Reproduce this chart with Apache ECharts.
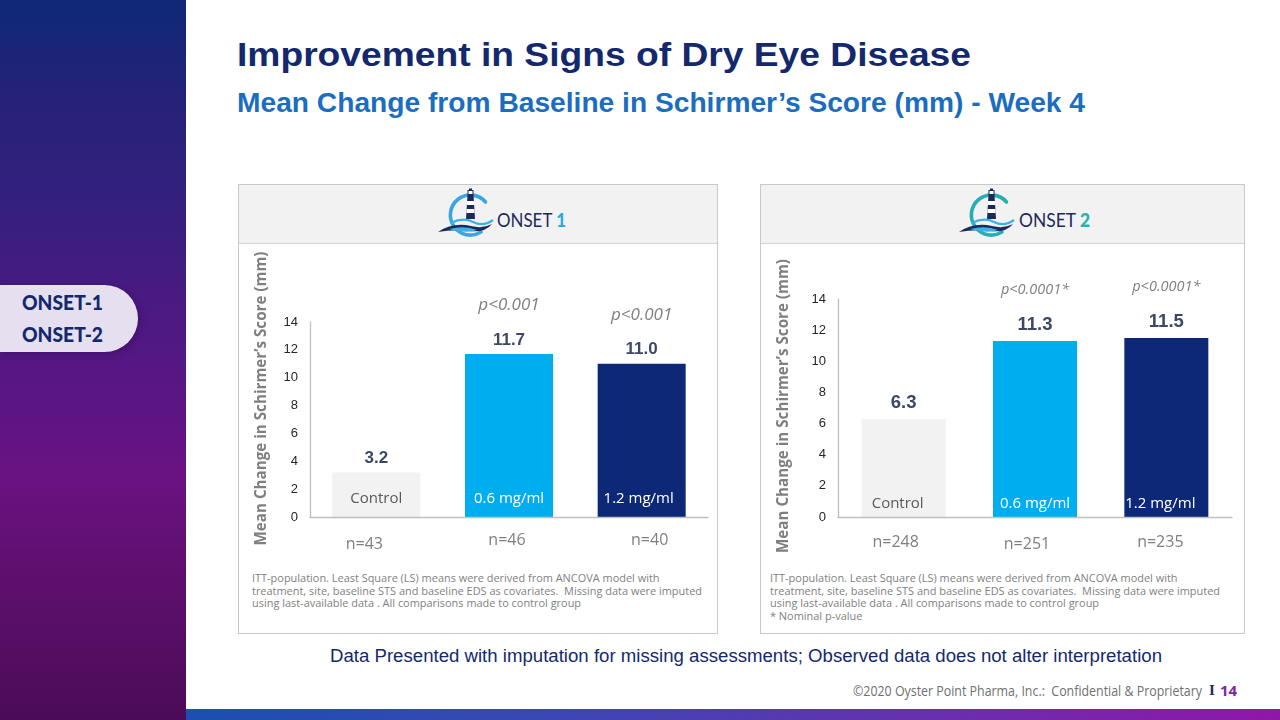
<!DOCTYPE html>
<html>
<head>
<meta charset="utf-8">
<script src="https://cdn.jsdelivr.net/npm/echarts@6/dist/echarts.min.js"></script>
<style>
  html, body { margin:0; padding:0; width:1280px; height:720px; overflow:hidden; background:#ffffff; }
  #page { position:relative; width:1280px; height:720px; }
  .abs { position:absolute; }
  .fit { position:absolute; white-space:nowrap; display:inline-block; transform-origin:0 50%; }
  #sidebar { left:0; top:0; width:186px; height:720px;
    background:linear-gradient(180deg,#0f2878 0%,#262278 14%,#34207e 28%,#4a1a82 42%,#5c1584 56%,#6a1282 66%,#601070 78%,#4c0b58 100%); }
  #bottombar { left:186px; top:709px; width:1094px; height:11px;
    background:linear-gradient(90deg,#1b4fb0 0%,#3d47b4 35%,#6a2eae 70%,#8f17a8 100%); }
  #pill { left:0; top:285px; width:138px; height:67px; background:#e5dfef; border-radius:0 34px 34px 0; box-shadow:2px 2px 6px rgba(40,0,60,0.35); }
  .pilltxt { font-family:Lato, 'DejaVu Sans', sans-serif; font-weight:900; font-size:20px; color:#13296e; line-height:22px; }
  .panel { border:1.5px solid #c9c9c9; box-sizing:border-box; background:#ffffff; }
  .phead { position:absolute; left:0; top:0; right:0; height:58px; background:#f2f2f2; border-bottom:1.5px solid #d3d3d3; }
  .foot { font-family:'Open Sans', sans-serif; font-size:11px; color:#7f7f7f; line-height:12.6px; }
  .logotxt { font-family:Lato, sans-serif; font-size:19px; color:#1e2a57; line-height:20px; }
  #chart { position:absolute; left:0; top:0; width:1280px; height:720px; }
</style>
</head>
<body>
<div id="page">
  <div id="sidebar" class="abs"></div>
  <div id="bottombar" class="abs"></div>
  <div id="pill" class="abs"></div>
  <div class="fit pilltxt" style="left:22px; top:291px;" data-w="81">ONSET-1</div>
  <div class="fit pilltxt" style="left:22px; top:323px;" data-w="81">ONSET-2</div>

  <div class="fit" style="left:237px; top:36px; font-family:'Liberation Sans',Arial,sans-serif; font-weight:bold; font-size:33px; line-height:38px; color:#14286e;" data-w="734">Improvement in Signs of Dry Eye Disease</div>
  <div class="fit" style="left:237px; top:88px; font-family:'Liberation Sans Narrow','Liberation Sans',sans-serif; font-weight:bold; font-size:27px; line-height:30px; color:#1b6dbf;" data-w="848">Mean Change from Baseline in Schirmer’s Score (mm) - Week 4</div>

  <div class="abs panel" style="left:238px; top:184px; width:480px; height:450px;"><div class="phead"></div></div>
  <div class="abs panel" style="left:760px; top:184px; width:485px; height:450px;"><div class="phead"></div></div>

  <svg class="abs" id="logo1" style="left:437px; top:187px;" width="60" height="56" viewBox="0 0 60 56"></svg>
  <svg class="abs" id="logo2" style="left:958px; top:187px;" width="60" height="56" viewBox="0 0 60 56"></svg>
  <div class="fit logotxt" style="left:497px; top:210px;" data-w="69">ONSET <b style="color:#2aa9e0;font-weight:900;">1</b></div>
  <div class="fit logotxt" style="left:1019px; top:210px;" data-w="71">ONSET <b style="color:#28b2ad;font-weight:900;">2</b></div>

  <div class="fit foot" style="left:252px; top:572px;" data-w="450">ITT-population. Least Square (LS) means were derived from ANCOVA model with<br>treatment, site, baseline STS and baseline EDS as covariates.&nbsp; Missing data were imputed<br>using last-available data . All comparisons made to control group</div>
  <div class="fit foot" style="left:770px; top:572px;" data-w="450">ITT-population. Least Square (LS) means were derived from ANCOVA model with<br>treatment, site, baseline STS and baseline EDS as covariates.&nbsp; Missing data were imputed<br>using last-available data . All comparisons made to control group<br>* Nominal p-value</div>

  <div class="fit" style="left:330px; top:645px; font-family:'Liberation Sans',Arial,sans-serif; font-size:17.5px; line-height:22px; color:#14286e;" data-w="832">Data Presented with imputation for missing assessments; Observed data does not alter interpretation</div>

  <div class="fit" style="left:853px; top:681px; font-family:'Open Sans',sans-serif; font-size:14px; line-height:19px; color:#707070;" data-w="349">©2020 Oyster Point Pharma, Inc.:&nbsp; Confidential &amp; Proprietary</div>
  <div class="abs" style="left:1209px; top:680px; font-family:'Liberation Serif',serif; font-weight:bold; font-size:15px; line-height:20px; color:#14286e;">I</div>
  <div class="abs" style="left:1220px; top:680px; font-family:'Open Sans',sans-serif; font-weight:bold; font-size:15px; line-height:20px; color:#7a2a9e;">14</div>

  <div id="chart"></div>
</div>
<script>
// ---------------- data ----------------
const categories = ['Control', '0.6 mg/ml', '1.2 mg/ml'];
const onset1Values = [3.2, 11.7, 11.0];
const onset2Values = [6.3, 11.3, 11.5];
const onset1N = ['n=43', 'n=46', 'n=40'];
const onset2N = ['n=248', 'n=251', 'n=235'];
const onset1P = ['', 'p<0.001', 'p<0.001'];
const onset2P = ['', 'p<0.0001*', 'p<0.0001*'];
const yTickMin = 0;
const yTickMax = 14;
const yTickStep = 2;
const yAxisTitle = 'Mean Change in Schirmer’s Score (mm)';

// ---------------- style ----------------
const barColors = ['#f2f2f2', '#00aeef', '#0e2878'];
const catLabelColors = ['#595959', '#ffffff', '#ffffff'];
const GRAY = '#7f7f7f';

// logos
function drawLogo(id, arcColor) {
  const svg = document.getElementById(id);
  svg.innerHTML =
    '<path d="M48.5,15 A20,20 0 1,0 44,45" fill="none" stroke="' + arcColor + '" stroke-width="3.6" stroke-linecap="round"/>' +
    '<rect x="32" y="1.5" width="3" height="2" fill="#1b2a5a"/>' +
    '<rect x="31" y="3.5" width="5" height="4" fill="#ffffff" stroke="#1b2a5a" stroke-width="1"/>' +
    '<polygon points="30.5,8 36.5,8 38,32 29,32" fill="#1b2a5a"/>' +
    '<polygon points="30.1,14 36.9,14 37.2,18 29.8,18" fill="#ffffff"/>' +
    '<polygon points="29.6,22 37.4,22 37.6,26 29.4,26" fill="#ffffff"/>' +
    '<path d="M14,36 Q26,30 36,35 T56,33" fill="none" stroke="#3fb0e3" stroke-width="2.2"/>' +
    '<path d="M1,45 Q16,35 34,39 Q46,42 55,37 Q48,46 32,44 Q16,42 1,45 Z" fill="#1b2a5a"/>' +
    '<path d="M12,42 Q28,38 40,43 Q30,47 12,42 Z" fill="#3fb0e3"/>';
}
drawLogo('logo1', '#3aa6df');
drawLogo('logo2', '#27aeb4');

function fitAll() {
  document.querySelectorAll('.fit').forEach(el => {
    el.style.transform = 'none';
    const t = parseFloat(el.dataset.w);
    const w = el.getBoundingClientRect().width;
    if (t && w) el.style.transform = 'scaleX(' + (t / w) + ')';
  });
}

// ---------------- chart ----------------
function panelSeries(values, pLabels, gridIdx, vFont, distance) {
  return {
    type: 'bar',
    xAxisIndex: gridIdx * 2,
    yAxisIndex: gridIdx,
    data: values.map((v, i) => ({ value: v, itemStyle: { color: barColors[i] } })),
    barWidth: gridIdx === 0 ? 88 : 84,
    label: {
      show: true,
      position: 'top',
      distance: distance,
      formatter: p => {
        const v = '{v|' + p.value.toFixed(1) + '}';
        const pl = pLabels[p.dataIndex];
        return pl ? '{p|' + pl + '}\n' + v : v;
      },
      rich: {
        v: { fontFamily: 'Liberation Sans, Arial, sans-serif', fontWeight: 'bold', fontSize: vFont, color: '#3b4867', lineHeight: 24, align: 'center' },
        p: { fontFamily: 'Open Sans, sans-serif', fontStyle: 'italic', fontSize: gridIdx === 0 ? 17 : 14.5, color: GRAY, lineHeight: 46, align: 'center' }
      }
    },
    emphasis: { disabled: true }
  };
}

function catAxis(gridIdx, shifts, margin) {
  const rich = {};
  categories.forEach((c, i) => {
    const s = shifts[i];
    rich['c' + i] = {
      fontFamily: 'Open Sans, sans-serif', fontSize: 15, color: catLabelColors[i],
      padding: [0, s < 0 ? -2 * s : 0, 0, s > 0 ? 2 * s : 0]
    };
  });
  return {
    gridIndex: gridIdx, type: 'category', data: categories, position: 'bottom',
    axisLine: { show: true, lineStyle: { color: '#bfbfbf', width: 1.3 } },
    axisTick: { show: false },
    axisLabel: { inside: true, margin: margin, formatter: (v, i) => '{c' + i + '|' + v + '}', rich: rich },
    z: 10
  };
}

function nAxis(gridIdx, nLabels, shifts, dys, margin) {
  const rich = {};
  nLabels.forEach((c, i) => {
    const s = shifts[i], dy = dys[i];
    rich['n' + i] = {
      fontFamily: 'Open Sans, sans-serif', fontSize: 16, color: GRAY,
      padding: [dy > 0 ? 2 * dy : 0, s < 0 ? -2 * s : 0, dy < 0 ? -2 * dy : 0, s > 0 ? 2 * s : 0]
    };
  });
  return {
    gridIndex: gridIdx, type: 'category', data: nLabels, position: 'bottom',
    axisLine: { show: false }, axisTick: { show: false },
    axisLabel: { margin: margin, formatter: (v, i) => '{n' + i + '|' + v + '}', rich: rich }
  };
}

function valAxis(gridIdx, gap, namePad) {
  return {
    gridIndex: gridIdx, type: 'value', min: yTickMin, max: yTickMax, interval: yTickStep,
    splitLine: { show: false },
    axisLine: { show: true, lineStyle: { color: '#bfbfbf', width: 1.3 } },
    axisTick: { show: false },
    axisLabel: { color: '#262626', fontSize: 13, margin: 12, fontFamily: 'Liberation Sans, Arial, sans-serif' },
    name: yAxisTitle, nameLocation: 'middle', nameRotate: 90, nameGap: gap,
    nameTextStyle: { fontFamily: 'Open Sans, sans-serif', fontWeight: 'bold', fontSize: 15.2, color: GRAY, padding: namePad }
  };
}

const chart = echarts.init(document.getElementById('chart'), null, { renderer: 'canvas' });
const option = {
  backgroundColor: 'transparent',
  animation: false,
  grid: [
    { left: 310, top: 322, width: 398, height: 195 },
    { left: 838, top: 299, width: 394, height: 218 }
  ],
  xAxis: [
    catAxis(0, [0, 0, -3], 11),
    nAxis(0, onset1N, [-12, -2, 8], [2, 0, -2], 15),
    catAxis(1, [-6, 0, -6], 6),
    nAxis(1, onset2N, [-8, -8, -6], [0, 1, 0], 17)
  ],
  yAxis: [ valAxis(0, 41, [0, 0, 0, 42]), valAxis(1, 47, [0, 0, 0, 4]) ],
  series: [
    panelSeries(onset1Values, onset1P, 0, 17, 2),
    panelSeries(onset2Values, onset2P, 1, 18.5, 4)
  ]
};
chart.setOption(option);

(document.fonts && document.fonts.ready ? document.fonts.ready : Promise.resolve()).then(() => {
  fitAll();
  chart.setOption(option, true);
});
fitAll();
</script>
</body>
</html>
